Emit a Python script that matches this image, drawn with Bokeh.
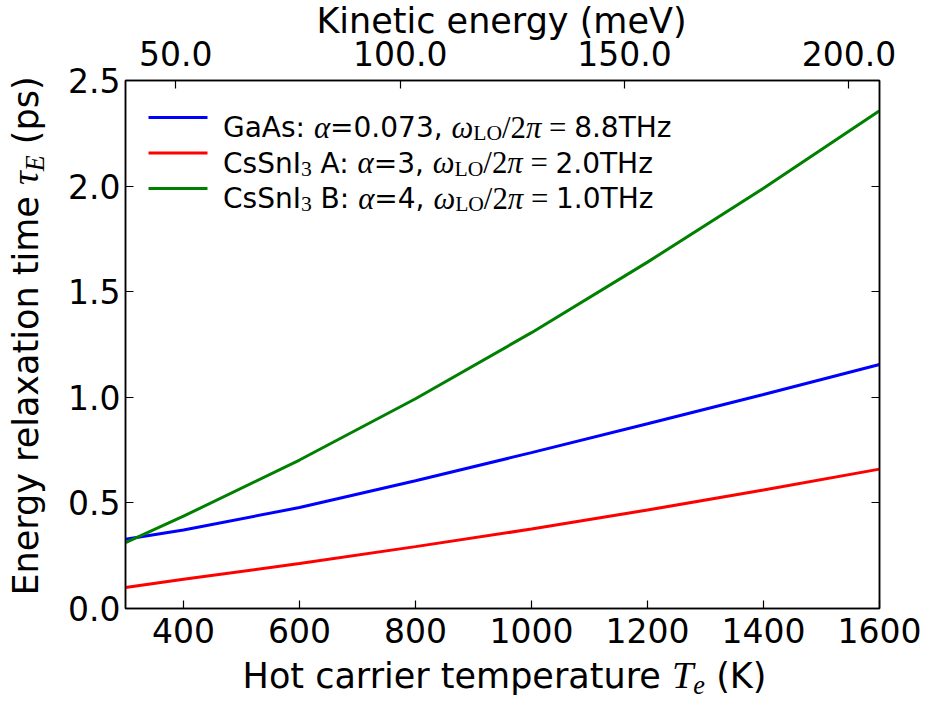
import glob, os
from bokeh.plotting import figure
from bokeh.layouts import column, row
from bokeh.models import (ColumnDataSource, Range1d, LinearAxis, FixedTicker, Div,
                          PrintfTickFormatter, CustomJSTickFormatter, Label, BoxAnnotation)
from bokeh.embed import file_html
from bokeh.resources import INLINE

# ---------------- data ----------------
temperature_K = [300, 400, 600, 800, 1000, 1200, 1400, 1600]
tau_gaas      = [0.328, 0.372, 0.478, 0.605, 0.738, 0.875, 1.013, 1.155]
tau_cssni3_a  = [0.099, 0.138, 0.213, 0.293, 0.376, 0.466, 0.561, 0.660]
tau_cssni3_b  = [0.312, 0.437, 0.703, 0.993, 1.306, 1.640, 1.990, 2.357]

x_ticks = [400, 600, 800, 1000, 1200, 1400, 1600]
y_ticks = [0.0, 0.5, 1.0, 1.5, 2.0, 2.5]
energy_ticks = [50, 100, 150, 200]          # meV, top axis
KB_MEV = 0.08617333                          # Boltzmann constant, meV/K (E = 3/2 kT)

series_colors = ["#0000ff", "#ff0000", "#008000"]

# ---------------- layout constants (page pixels) ----------------
PAGE_W, PAGE_H = 928, 702
LEFT_W = 48                 # width of the y-title strip
TOP_H = 27                  # height of the top-title strip
FIG_BOTTOM = 653            # page y where the figure ends
FRAME_L, FRAME_R, FRAME_T, FRAME_B = 125, 879, 80, 608
FH = FRAME_B - FRAME_T
TICK_FS = "33px"
LABEL_FS = 35
LEG_FS = 28
MATH_SCALE = 1.1

# ---------------- font measurement for the legend texts ----------------
try:
    from PIL import ImageFont
except Exception:
    ImageFont = None

def find_font(name):
    for root in ["/usr/share/fonts", "/usr/local/share/fonts", os.path.expanduser("~/.fonts")]:
        hits = glob.glob(os.path.join(root, "**", name), recursive=True)
        if hits:
            return hits[0]
    return None

FONT_FILES = {"sans": find_font("DejaVuSans.ttf"),
              "mi": find_font("LiberationSerif-Italic.ttf"),
              "rm": find_font("LiberationSerif-Regular.ttf")}
FAM = {"sans": "DejaVu Sans", "mi": "Liberation Serif", "rm": "Liberation Serif"}
STY = {"sans": "normal", "mi": "italic", "rm": "normal"}
_fcache = {}

def text_width(t, kind, size):
    path = FONT_FILES.get(kind)
    if ImageFont is not None and path:
        if path not in _fcache:
            _fcache[path] = ImageFont.truetype(path, 100)
        return _fcache[path].getlength(t) * size / 100.0
    return (0.62 if kind == "sans" else 0.5) * size * len(t)

def rich(p, pieces, x0, y0, size):
    """pieces: (text, kind, scale, drop); frame-relative screen units (y up)."""
    pos = 0.0
    for t, k, s, d in pieces:
        if k != "sans":
            s = s * MATH_SCALE
        w = text_width(t, k, size * s)
        lead = len(t) - len(t.lstrip())
        off = text_width(t[:lead], k, size * s) if lead else 0.0
        txt = t.strip()
        if txt:
            p.add_layout(Label(x=x0 + pos + off, y=y0 - d * size, x_units="screen", y_units="screen",
                               text=txt, text_font=FAM[k], text_font_style=STY[k],
                               text_font_size=f"{size * s:.1f}px", text_color="black",
                               text_baseline="alphabetic", text_align="left"))
        pos += w

# ---------------- figure ----------------
src = ColumnDataSource(dict(T=temperature_K, gaas=tau_gaas, a=tau_cssni3_a, b=tau_cssni3_b))

fig_w = PAGE_W - LEFT_W
fig_h = FIG_BOTTOM - TOP_H
p = figure(width=fig_w, height=fig_h, output_backend="svg", toolbar_location=None,
           x_range=Range1d(300, 1600), y_range=Range1d(0, 2.5),
           min_border_left=FRAME_L - LEFT_W, min_border_right=PAGE_W - FRAME_R,
           min_border_top=FRAME_T - TOP_H, min_border_bottom=FIG_BOTTOM - FRAME_B)
p.background_fill_color = "white"
p.border_fill_color = "white"
p.border_fill_alpha = 0.0
p.outline_line_color = "black"
p.outline_line_width = 1.5
p.xgrid.visible = False
p.ygrid.visible = False

bottom_axis = p.below[0]
left_axis = p.left[0]

p.extra_x_ranges = {"energy": Range1d(1.5 * KB_MEV * 300, 1.5 * KB_MEV * 1600)}
top_axis = LinearAxis(x_range_name="energy", ticker=FixedTicker(ticks=energy_ticks),
                      formatter=PrintfTickFormatter(format="%.1f"))
p.add_layout(top_axis, "above")
right_axis = LinearAxis(ticker=FixedTicker(ticks=y_ticks),
                        formatter=CustomJSTickFormatter(code="return ''"))
p.add_layout(right_axis, "right")

bottom_axis.ticker = FixedTicker(ticks=x_ticks)
left_axis.ticker = FixedTicker(ticks=y_ticks)
left_axis.formatter = PrintfTickFormatter(format="%.1f")

for ax in [bottom_axis, left_axis, top_axis, right_axis]:
    ax.axis_line_color = "black"
    ax.axis_line_width = 1.5
    ax.major_tick_in = 8
    ax.major_tick_out = 0
    ax.major_tick_line_color = "black"
    ax.major_tick_line_width = 1.2
    ax.minor_tick_line_color = None
    ax.major_label_text_font = "DejaVu Sans"
    ax.major_label_text_font_size = TICK_FS
    ax.major_label_text_color = "black"
top_axis.major_label_standoff = 15
bottom_axis.major_label_standoff = 9
left_axis.major_label_standoff = 5

for col, c in zip(["gaas", "a", "b"], series_colors):
    p.line("T", col, source=src, line_color=c, line_width=3)

# legend: key lines + mixed text/math labels
SUB = 0.7
leg_lines = [
    [("GaAs: ", "sans", 1, 0), ("\u03b1", "mi", 1, 0), ("=0.073, ", "sans", 1, 0),
     ("\u03c9", "mi", 1, 0), ("LO", "rm", SUB, 0.2), ("/2", "rm", 1, 0), ("\u03c0", "mi", 1, 0),
     (" = ", "rm", 1, 0), ("8.8THz", "sans", 1, 0)],
    [("CsSnI", "sans", 1, 0), ("3", "rm", SUB, 0.2), (" A: ", "sans", 1, 0), ("\u03b1", "mi", 1, 0),
     ("=3, ", "sans", 1, 0), ("\u03c9", "mi", 1, 0), ("LO", "rm", SUB, 0.2), ("/2", "rm", 1, 0),
     ("\u03c0", "mi", 1, 0), (" = ", "rm", 1, 0), ("2.0THz", "sans", 1, 0)],
    [("CsSnI", "sans", 1, 0), ("3", "rm", SUB, 0.2), (" B: ", "sans", 1, 0), ("\u03b1", "mi", 1, 0),
     ("=4, ", "sans", 1, 0), ("\u03c9", "mi", 1, 0), ("LO", "rm", SUB, 0.2), ("/2", "rm", 1, 0),
     ("\u03c0", "mi", 1, 0), (" = ", "rm", 1, 0), ("1.0THz", "sans", 1, 0)],
]
LEG_TOP, LEG_STEP = 37, 35.5
for i, (pieces, c) in enumerate(zip(leg_lines, series_colors)):
    ly = FH - (LEG_TOP + i * LEG_STEP)
    p.add_layout(BoxAnnotation(left=23, right=82, bottom=ly - 1.5, top=ly + 1.5,
                               left_units="screen", right_units="screen",
                               bottom_units="screen", top_units="screen",
                               fill_color=c, fill_alpha=1.0, line_color=None))
    rich(p, pieces, 97.5, ly - 10, LEG_FS)

# axis titles (with math) as HTML
SERIF_I = "font-family:'Liberation Serif';font-style:italic;font-size:%.2fem;" % MATH_SCALE
SUBSPAN = ("font-family:'Liberation Serif';font-style:italic;font-size:0.75em;"
           "position:relative;top:0.22em;line-height:0;")
ylab_html = ("Energy relaxation time <span style=\"%s\">\u03c4</span>"
             "<span style=\"%s\">E</span> (ps)") % (SERIF_I, SUBSPAN)
xlab_html = ("Hot carrier temperature <span style=\"%s\">T</span>"
             "<span style=\"%s\">e</span> (K)") % (SERIF_I, SUBSPAN)

def base_style(lh):
    return ("white-space:nowrap;font-family:'DejaVu Sans';font-size:%dpx;line-height:%dpx;color:#000;"
            % (LABEL_FS, lh))

def baseline_from_top(lh):
    return (lh - 1.164 * LABEL_FS) / 2 + 0.928 * LABEL_FS

TITLE_LH = 22
TITLE_BASELINE = 33
tdiv = Div(width=PAGE_W, height=TOP_H, margin=0, text=(
    "<div style=\"position:relative;width:%dpx;height:%dpx;overflow:visible;\">"
    "<div style=\"position:absolute;left:501.5px;top:%.1fpx;transform:translateX(-50%%);%s\">"
    "Kinetic energy (meV)</div></div>") % (PAGE_W, TOP_H, TITLE_BASELINE - baseline_from_top(TITLE_LH),
                                           base_style(TITLE_LH)))

ydiv = Div(width=LEFT_W, height=fig_h, margin=0, text=(
    "<div style=\"position:relative;width:%dpx;height:%dpx;\">"
    "<div style=\"position:absolute;left:%.1fpx;top:%.1fpx;transform:translate(-50%%,-50%%) rotate(-90deg);%s\">%s</div>"
    "</div>") % (LEFT_W, fig_h, 38.5 - (baseline_from_top(LABEL_FS) - LABEL_FS / 2), 336 - TOP_H,
                 base_style(LABEL_FS), ylab_html))

bottom_h = PAGE_H - FIG_BOTTOM
xdiv = Div(width=PAGE_W, height=bottom_h, margin=0, text=(
    "<div style=\"position:relative;width:%dpx;height:%dpx;\">"
    "<div style=\"position:absolute;left:504.5px;top:%.1fpx;transform:translateX(-50%%);%s\">%s</div>"
    "</div>") % (PAGE_W, bottom_h, 687.5 - FIG_BOTTOM - baseline_from_top(LABEL_FS),
                 base_style(LABEL_FS), xlab_html))

layout = column(tdiv, row(ydiv, p, spacing=0), xdiv, spacing=0)

open("out.html", "w").write(file_html(layout, INLINE, "Energy relaxation time"))
